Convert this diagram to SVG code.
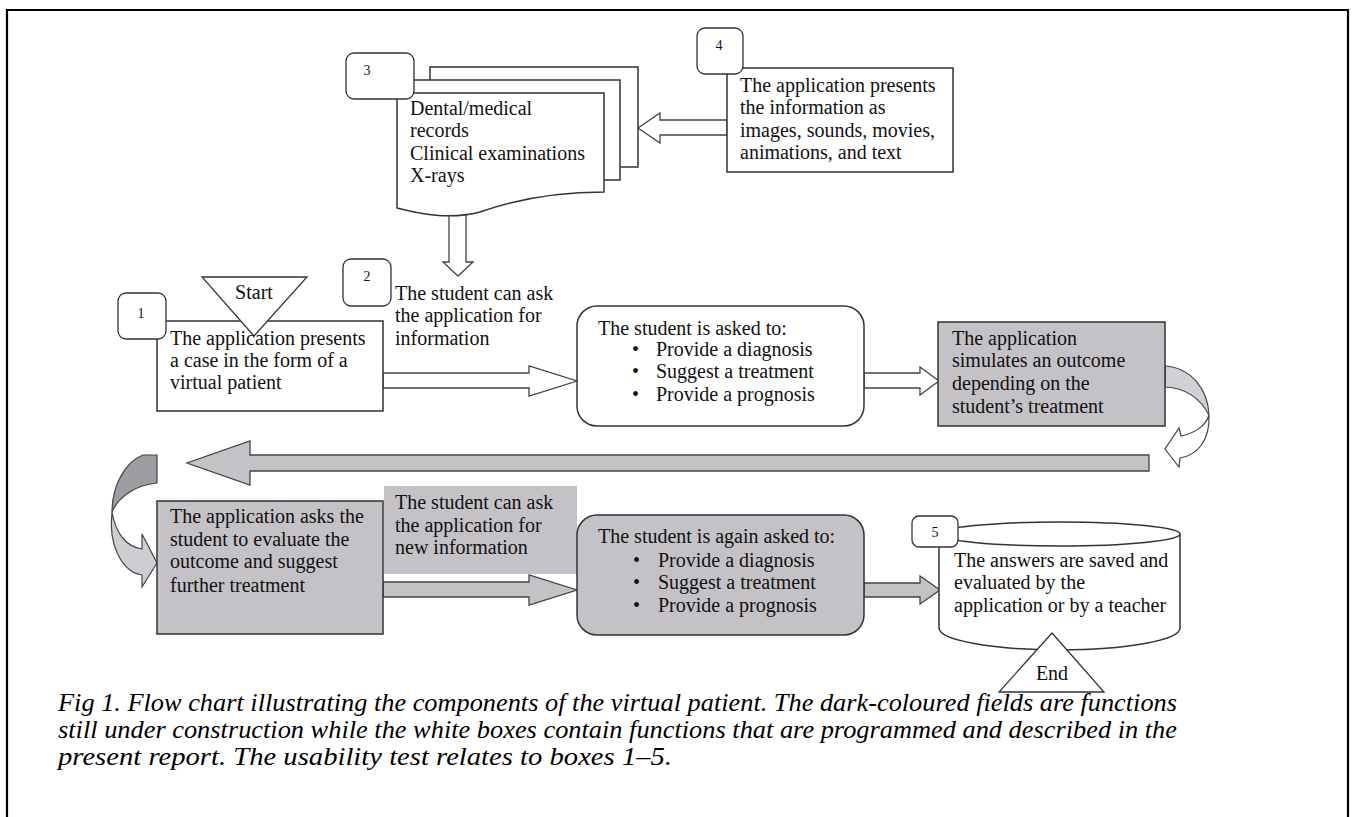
<svg xmlns="http://www.w3.org/2000/svg" width="1355" height="817" viewBox="0 0 1355 817">
<style>
text{font-family:"Liberation Serif","Times New Roman",serif;font-size:20px;fill:#111}
.lbl{fill:#fff;stroke:#333;stroke-width:1.3}
.num{font-size:14px;text-anchor:middle}
.box{fill:#fff;stroke:#333;stroke-width:1.5}
.dark{fill:#c4c2c6;stroke:#333;stroke-width:1.5}
.harrow{fill:#fff;stroke:#444;stroke-width:1.3}
.garrow{fill:#c4c2c6;stroke:#444;stroke-width:1.3}
.cap{font-style:italic;font-size:26px;fill:#000}
</style>
<rect width="1355" height="817" fill="#fff"/>
<path d="M7,817 V10 H1348 V817" fill="none" stroke="#000" stroke-width="2.2"/>

<g id="connectors">
  <path class="harrow" d="M449,205 V262 H443 L458,276 L473,262 H466 V205 Z"/>
  <path class="harrow" d="M727,120 H660 V113 L638,128 L660,143 V135 H727 Z"/>
  <path class="harrow" d="M383,373 H529 V366 L577,381 L529,396 V388 H383 Z"/>
  <path class="harrow" d="M864,373 H920 V367 L939,381 L920,395 V388 H864 Z"/>
  <path class="garrow" d="M1149,455 H250 V441 L187,463 L250,485 V471 H1149 Z"/>
  <path class="garrow" d="M383,582 H529 V575 L577,590 L529,605 V597 H383 Z"/>
  <path class="garrow" d="M864,583 H920 V576 L940,590 L920,604 V597 H864 Z"/>
  <g id="curl-right">
    <path d="M1165,366 C1192,368 1208,390 1209,415 C1201,400 1187,388 1165,387 Z" fill="#d2d0d4" stroke="#444" stroke-width="1.2"/>
    <path d="M1209,415 C1210,440 1198,455 1180,458 L1179,467 L1165,449 L1179,428 L1181,436 C1196,433 1206,425 1209,415 Z" fill="#fff" stroke="#444" stroke-width="1.2"/>
  </g>
  <g id="curl-left">
    <path d="M143,455 L157,455 L157,483 C136,485 119,496 112,512 C112,486 125,462 143,455 Z" fill="#9e9ca0" stroke="#444" stroke-width="1.2"/>
    <path d="M112,512 C116,536 128,547 142,549 L142,534 L157,563 L142,587 L142,575 C122,572 108,545 112,512 Z" fill="#cfcdd1" stroke="#444" stroke-width="1.2"/>
  </g>
</g>

<g id="node3">
  <rect class="box" x="430" y="67" width="208" height="100"/>
  <rect class="box" x="412" y="80" width="208" height="100"/>
  <path class="box" d="M397,93 H604 V192 C560,192 520,198 480,212 C450,220 420,214 397,208 Z"/>
  <text x="410" y="115">Dental/medical</text>
  <text x="410" y="137">records</text>
  <text x="410" y="160">Clinical examinations</text>
  <text x="410" y="182">X-rays</text>
  <rect class="lbl" x="346" y="53" width="68" height="46" rx="8"/>
  <text class="num" x="367" y="75">3</text>
</g>

<g id="node4">
  <rect class="box" x="727" y="68" width="226" height="104"/>
  <text x="740" y="92">The application presents</text>
  <text x="740" y="114">the information as</text>
  <text x="740" y="137">images, sounds, movies,</text>
  <text x="740" y="159">animations, and text</text>
  <rect class="lbl" x="697" y="28" width="46" height="46" rx="8"/>
  <text class="num" x="719" y="50">4</text>
</g>

<g id="node1">
  <rect class="box" x="157" y="321" width="226" height="90"/>
  <text x="170" y="345">The application presents</text>
  <text x="170" y="367">a case in the form of a</text>
  <text x="170" y="389">virtual patient</text>
  <rect class="lbl" x="118" y="293" width="48" height="46" rx="8"/>
  <text class="num" x="141" y="318">1</text>
</g>

<g id="start">
  <path d="M202,277 H307 L254,336 Z" fill="#fff" stroke="#333" stroke-width="1.3"/>
  <text x="254" y="299" text-anchor="middle" font-size="19">Start</text>
</g>

<g id="node2">
  <rect class="lbl" x="343" y="259" width="48" height="47" rx="8"/>
  <text class="num" x="367" y="281">2</text>
  <text x="395" y="300">The student can ask</text>
  <text x="395" y="322">the application for</text>
  <text x="395" y="345">information</text>
</g>

<g id="ask1">
  <rect class="box" x="577" y="306" width="287" height="120" rx="20"/>
  <text x="598" y="335">The student is asked to:</text>
  <text x="632" y="356">•</text><text x="656" y="356">Provide a diagnosis</text>
  <text x="632" y="378">•</text><text x="656" y="378">Suggest a treatment</text>
  <text x="632" y="401">•</text><text x="656" y="401">Provide a prognosis</text>
</g>

<g id="simulate">
  <rect class="dark" x="938" y="322" width="227" height="104"/>
  <text x="952" y="345">The application</text>
  <text x="952" y="367">simulates an outcome</text>
  <text x="952" y="390">depending on the</text>
  <text x="952" y="413">student’s treatment</text>
</g>

<g id="evaluate">
  <rect class="dark" x="157" y="501" width="226" height="133"/>
  <text x="170" y="523">The application asks the</text>
  <text x="170" y="546">student to evaluate the</text>
  <text x="170" y="568">outcome and suggest</text>
  <text x="170" y="592">further treatment</text>
</g>

<g id="newinfo">
  <rect x="384" y="486" width="193" height="88" fill="#c4c2c6"/>
  <text x="395" y="509">The student can ask</text>
  <text x="395" y="532">the application for</text>
  <text x="395" y="554">new information</text>
</g>

<g id="ask2">
  <rect class="dark" x="577" y="515" width="287" height="120" rx="20"/>
  <text x="598" y="543">The student is again asked to:</text>
  <text x="633" y="567">•</text><text x="658" y="567">Provide a diagnosis</text>
  <text x="633" y="589">•</text><text x="658" y="589">Suggest a treatment</text>
  <text x="633" y="612">•</text><text x="658" y="612">Provide a prognosis</text>
</g>

<g id="node5">
  <path class="box" d="M939,534 V628 A120.5,22 0 0 0 1180,628 V534"/>
  <ellipse class="box" cx="1059.5" cy="534" rx="120.5" ry="12"/>
  <text x="954" y="567">The answers are saved and</text>
  <text x="954" y="589">evaluated by the</text>
  <text x="954" y="612">application or by a teacher</text>
  <rect class="lbl" x="912" y="516" width="46" height="31" rx="7"/>
  <text class="num" x="935" y="537">5</text>
</g>

<g id="end">
  <path d="M1052,633 L1104,692 H999 Z" fill="#fff" stroke="#333" stroke-width="1.3"/>
  <text x="1052" y="680" text-anchor="middle" font-size="19">End</text>
</g>

<g id="caption">
  <text class="cap" x="58" y="711" textLength="1119" lengthAdjust="spacingAndGlyphs">Fig 1. Flow chart illustrating the components of the virtual patient. The dark-coloured fields are functions</text>
  <text class="cap" x="58" y="738" textLength="1119" lengthAdjust="spacingAndGlyphs">still under construction while the white boxes contain functions that are programmed and described in the</text>
  <text class="cap" x="58" y="765" textLength="614" lengthAdjust="spacingAndGlyphs">present report. The usability test relates to boxes 1–5.</text>
</g>
</svg>
